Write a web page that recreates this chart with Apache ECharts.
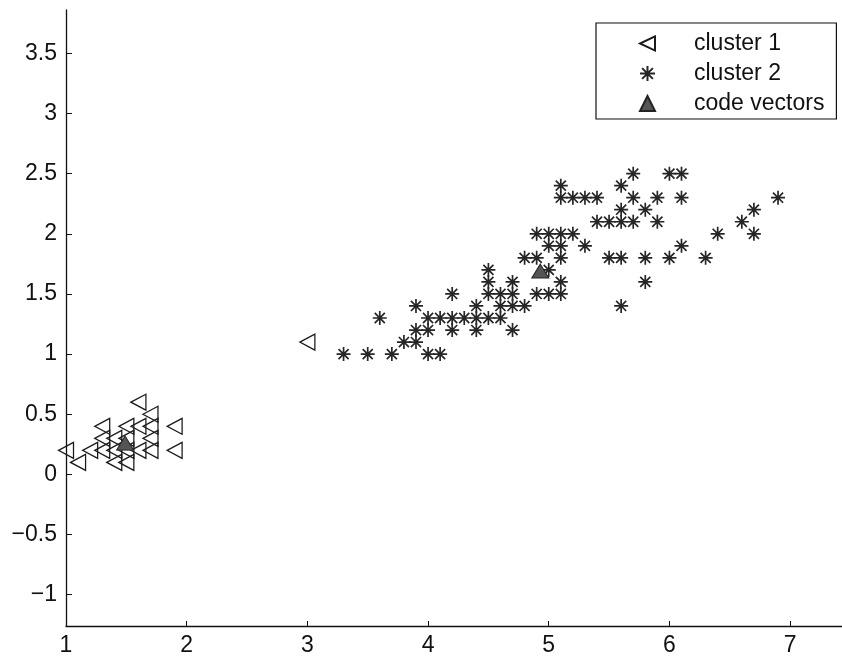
<!DOCTYPE html>
<html>
<head>
<meta charset="utf-8">
<title>cluster 1 / cluster 2 / code vectors</title>
<script src="https://cdn.jsdelivr.net/npm/echarts@6/dist/echarts.min.js"></script>
<style>
  html, body { margin: 0; padding: 0; background: #ffffff; }
  #chart { width: 842px; height: 662px; }
</style>
</head>
<body>
<div id="chart"></div>
<script>
// Points assigned to the first cluster (petal length, petal width)
const cluster1Points = [
  [1.0, 0.2], [1.1, 0.1], [1.2, 0.2], [1.3, 0.2], [1.3, 0.3], [1.3, 0.4],
  [1.4, 0.1], [1.4, 0.2], [1.4, 0.3], [1.5, 0.1], [1.5, 0.2], [1.5, 0.3],
  [1.5, 0.4], [1.6, 0.2], [1.6, 0.4], [1.6, 0.6], [1.7, 0.2], [1.7, 0.3],
  [1.7, 0.4], [1.7, 0.5], [1.9, 0.2], [1.9, 0.4], [3.0, 1.1]
];

// Points assigned to the second cluster
const cluster2Points = [
  [3.3, 1.0], [3.5, 1.0], [3.6, 1.3], [3.7, 1.0], [3.8, 1.1], [3.9, 1.1],
  [3.9, 1.2], [3.9, 1.4], [4.0, 1.0], [4.0, 1.2], [4.0, 1.3], [4.1, 1.0],
  [4.1, 1.3], [4.2, 1.2], [4.2, 1.3], [4.2, 1.5], [4.3, 1.3], [4.4, 1.2],
  [4.4, 1.3], [4.4, 1.4], [4.5, 1.3], [4.5, 1.5], [4.5, 1.6], [4.5, 1.7],
  [4.6, 1.3], [4.6, 1.4], [4.6, 1.5], [4.7, 1.2], [4.7, 1.4], [4.7, 1.5],
  [4.7, 1.6], [4.8, 1.4], [4.8, 1.8], [4.9, 1.5], [4.9, 1.8], [4.9, 2.0],
  [5.0, 1.5], [5.0, 1.7], [5.0, 1.9], [5.0, 2.0], [5.1, 1.5], [5.1, 1.6],
  [5.1, 1.8], [5.1, 1.9], [5.1, 2.0], [5.1, 2.3], [5.1, 2.4], [5.2, 2.0],
  [5.2, 2.3], [5.3, 1.9], [5.3, 2.3], [5.4, 2.1], [5.4, 2.3], [5.5, 1.8],
  [5.5, 2.1], [5.6, 1.4], [5.6, 1.8], [5.6, 2.1], [5.6, 2.2], [5.6, 2.4],
  [5.7, 2.1], [5.7, 2.3], [5.7, 2.5], [5.8, 1.6], [5.8, 1.8], [5.8, 2.2],
  [5.9, 2.1], [5.9, 2.3], [6.0, 1.8], [6.0, 2.5], [6.1, 1.9], [6.1, 2.3],
  [6.1, 2.5], [6.3, 1.8], [6.4, 2.0], [6.6, 2.1], [6.7, 2.0], [6.7, 2.2],
  [6.9, 2.3]
];

// Cluster centres
const codeVectors = [[1.49, 0.26], [4.93, 1.69]];

// Axis ranges and tick positions
const xRange = [1, 7.43];
const yRange = [-1.26, 3.86];
const xTicks = [1, 2, 3, 4, 5, 6, 7];
const yTicks = [-1, -0.5, 0, 0.5, 1, 1.5, 2, 2.5, 3, 3.5];

const FONT = '"Liberation Sans", Arial, Helvetica, sans-serif';
const INK = '#111111';

// Eight-spoke asterisk marker
const asteriskPath = 'path://M0,-1L0,1M-1,0L1,0M-0.72,-0.72L0.72,0.72M-0.72,0.72L0.72,-0.72';
// Left-pointing triangle used as the legend key of the first cluster
const leftTrianglePath = 'path://M16,0L0,7.5L16,15Z';

const fmt = v => String(v).replace('-', '\u2212');

const chart = echarts.init(document.getElementById('chart'), null, { renderer: 'canvas' });

chart.setOption({
  animation: false,
  backgroundColor: '#ffffff',
  grid: { left: 66, right: 0, top: 10, bottom: 36, containLabel: false },
  xAxis: {
    type: 'value',
    min: xRange[0],
    max: xRange[1],
    splitLine: { show: false },
    axisLine: { onZero: false, lineStyle: { color: INK, width: 1.3 } },
    axisTick: { inside: true, length: 5, customValues: xTicks, lineStyle: { color: INK, width: 1 } },
    axisLabel: {
      customValues: xTicks, formatter: fmt, margin: 8,
      color: INK, fontFamily: FONT, fontSize: 23
    }
  },
  yAxis: {
    type: 'value',
    min: yRange[0],
    max: yRange[1],
    splitLine: { show: false },
    axisLine: { show: true, onZero: false, lineStyle: { color: INK, width: 1.3 } },
    axisTick: { show: true, inside: true, length: 6, customValues: yTicks, lineStyle: { color: INK, width: 1 } },
    axisLabel: {
      customValues: yTicks, formatter: fmt, margin: 9,
      color: INK, fontFamily: FONT, fontSize: 23
    }
  },
  legend: {
    orient: 'vertical',
    left: 596,
    top: 23,
    data: [
      { name: 'cluster 1', icon: leftTrianglePath },
      { name: 'cluster 2' },
      { name: 'code vectors' }
    ],
    backgroundColor: '#ffffff',
    borderColor: '#111111',
    borderWidth: 1.2,
    borderRadius: 0,
    padding: [9, 12, 4, 43],
    itemWidth: 15,
    itemHeight: 15,
    itemGap: 7,
    selectedMode: false,
    textStyle: { color: INK, fontFamily: FONT, fontSize: 23, padding: [0, 0, 0, 34] }
  },
  series: [
    {
      name: 'cluster 1',
      type: 'scatter',
      data: cluster1Points,
      symbol: 'triangle',
      symbolRotate: 90,
      symbolSize: [16, 15],
      itemStyle: { color: 'rgba(255,255,255,0)', borderColor: '#1a1a1a', borderWidth: 1.3, opacity: 1 },
      z: 2
    },
    {
      name: 'cluster 2',
      type: 'scatter',
      data: cluster2Points,
      symbol: asteriskPath,
      symbolSize: 14,
      itemStyle: { color: 'rgba(0,0,0,0)', borderColor: '#262626', borderWidth: 1.7, opacity: 1 },
      z: 2
    },
    {
      name: 'code vectors',
      type: 'scatter',
      data: codeVectors,
      symbol: 'triangle',
      symbolSize: [17, 14],
      itemStyle: { color: '#555555', borderColor: '#222222', borderWidth: 1, opacity: 1 },
      z: 3
    }
  ]
});
</script>
</body>
</html>
